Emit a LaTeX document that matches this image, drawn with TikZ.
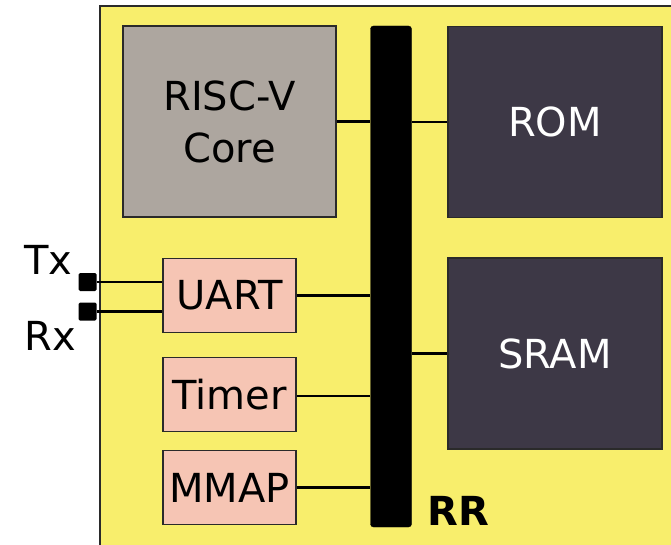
\documentclass[tikz,border=0pt]{standalone}
\usepackage{fontspec}
\setmainfont{DejaVu Sans}
\definecolor{chipyellow}{HTML}{F8EE6C}
\definecolor{coregray}{HTML}{ADA69F}
\definecolor{memdark}{HTML}{3D3846}
\definecolor{periph}{HTML}{F6C5B4}
\definecolor{edge}{HTML}{2A2A2A}
\tikzset{
  blk/.style={draw=edge, line width=1.3pt, inner sep=0pt, font=\fontsize{40}{52}\selectfont, align=center},
  corebox/.style={blk, fill=coregray, text=black, minimum width=213, minimum height=191},
  membox/.style={blk, fill=memdark, text=white, minimum width=214, minimum height=191},
  perbox/.style={blk, fill=periph, text=black, minimum width=133, minimum height=74},
  busbar/.style={fill=black, draw=black, rounded corners=3pt, minimum width=41, minimum height=501, inner sep=0pt},
  pin/.style={fill=black, rounded corners=1.5pt, minimum width=18, minimum height=18, inner sep=0pt},
  wire/.style={line width=2.8pt, black},
  lbl/.style={inner sep=0pt, font=\fontsize{40}{44}\selectfont},
}
\begin{document}
\begin{tikzpicture}[x=1pt,y=-1pt]
\useasboundingbox (0,0) rectangle (671,545);
\fill[white] (0,0) rectangle (671,545);
\draw[fill=chipyellow, draw=edge, line width=1.2pt] (100,6) rectangle (680,560);

\node[corebox] (core) at (229.5,121.5) {RISC-V\\Core};
\node[membox] (rom) at (555,122) {ROM};
\node[membox] (sram) at (555,353.5) {SRAM};
\node[perbox] (uart) at (229.5,295.5) {UART};
\node[perbox] (timer) at (229.5,394.5) {Timer};
\node[perbox] (mmap) at (229.5,487.5) {MMAP};
\node[busbar] (bus) at (391,276.5) {};
\node[pin] (txpin) at (87.5,282) {};
\node[pin] (rxpin) at (87.5,311.5) {};

\node[lbl, anchor=base west] (tx) at (24,274) {Tx};
\node[lbl, anchor=base west] (rx) at (24,350) {Rx};
\node[lbl, anchor=base west, font=\fontsize{40}{44}\selectfont\bfseries] (rr) at (427,525) {RR};

\draw[wire] (core.east) -- (core.east -| bus.west);
\draw[wire] (rom.west) -- (rom.west -| bus.east);
\draw[wire] (sram.west) -- (sram.west -| bus.east);
\draw[wire] (uart.east) -- (uart.east -| bus.west);
\draw[wire] ([yshift=-1.5pt]timer.east) -- ([yshift=-1.5pt]timer.east -| bus.west);
\draw[wire] (mmap.east) -- (mmap.east -| bus.west);
\draw[wire] (txpin.east) -- (txpin.east -| uart.west);
\draw[wire] (rxpin.east) -- (rxpin.east -| uart.west);
\end{tikzpicture}
\end{document}
